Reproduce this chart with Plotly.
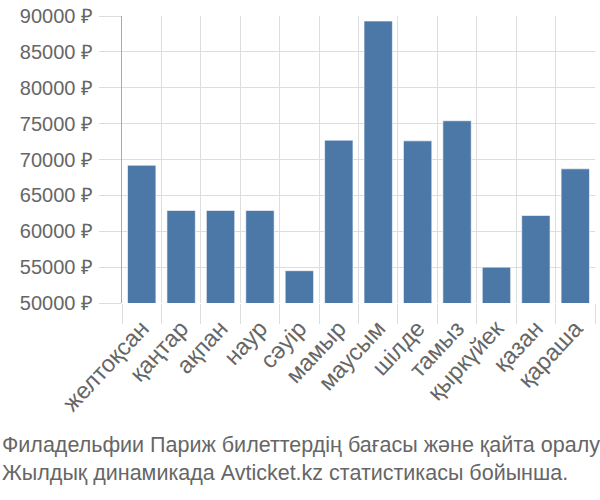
import plotly.graph_objects as go

months = ["желтоқсан", "қаңтар", "ақпан", "наур", "сәуір", "мамыр", "маусым",
          "шілде", "тамыз", "қыркүйек", "қазан", "қараша"]
prices = [69200, 62900, 62900, 62900, 54500, 72700, 89300, 72600, 75400, 55000, 62200, 68700]
y_ticks = [50000, 55000, 60000, 65000, 70000, 75000, 80000, 85000, 90000]
y_tick_labels = [f"{v} ₽" for v in y_ticks]
caption = ["Филадельфии Париж билеттердің бағасы және қайта оралу",
           "Жылдық динамикада Avticket.kz статистикасы бойынша."]

FONT = "Liberation Sans, Arial, sans-serif"
TXT = "#666666"

fig = go.Figure(go.Bar(
    x=months, y=prices,
    marker=dict(color="#4c78a8", line=dict(color="rgba(255,255,255,0.6)", width=1)),
    width=0.72,
))

fig.update_layout(
    width=600, height=500,
    margin=dict(l=122, r=5, t=14, b=197),
    paper_bgcolor="white", plot_bgcolor="white",
    showlegend=False,
    font=dict(family=FONT, color=TXT, size=20),
)
fig.update_xaxes(
    tickson="boundaries", ticks="outside", ticklen=20, tickcolor="#dddddd",
    showgrid=True, gridcolor="#dddddd", gridwidth=1,
    tickangle=-47, tickfont=dict(size=23.5, color=TXT), ticklabelstandoff=6,
    showline=False, zeroline=False,
)
fig.update_yaxes(
    range=[50000, 90000], tickvals=y_ticks, ticktext=y_tick_labels,
    ticks="outside", ticklen=22, tickcolor="#dddddd",
    showgrid=True, gridcolor="#dddddd", gridwidth=1,
    showline=True, linecolor="#aaaaaa", linewidth=1,
    tickfont=dict(size=20, color=TXT), zeroline=False, ticklabelstandoff=2,
)
for i, line in enumerate(caption):
    fig.add_annotation(
        xref="paper", yref="paper", x=-122/473, y=-(455 - 303 + 5 + i * 28) / 289,
        xanchor="left", yanchor="bottom", text=line, showarrow=False,
        font=dict(size=21.5, color=TXT, family=FONT),
    )

fig.write_html("out.html")
